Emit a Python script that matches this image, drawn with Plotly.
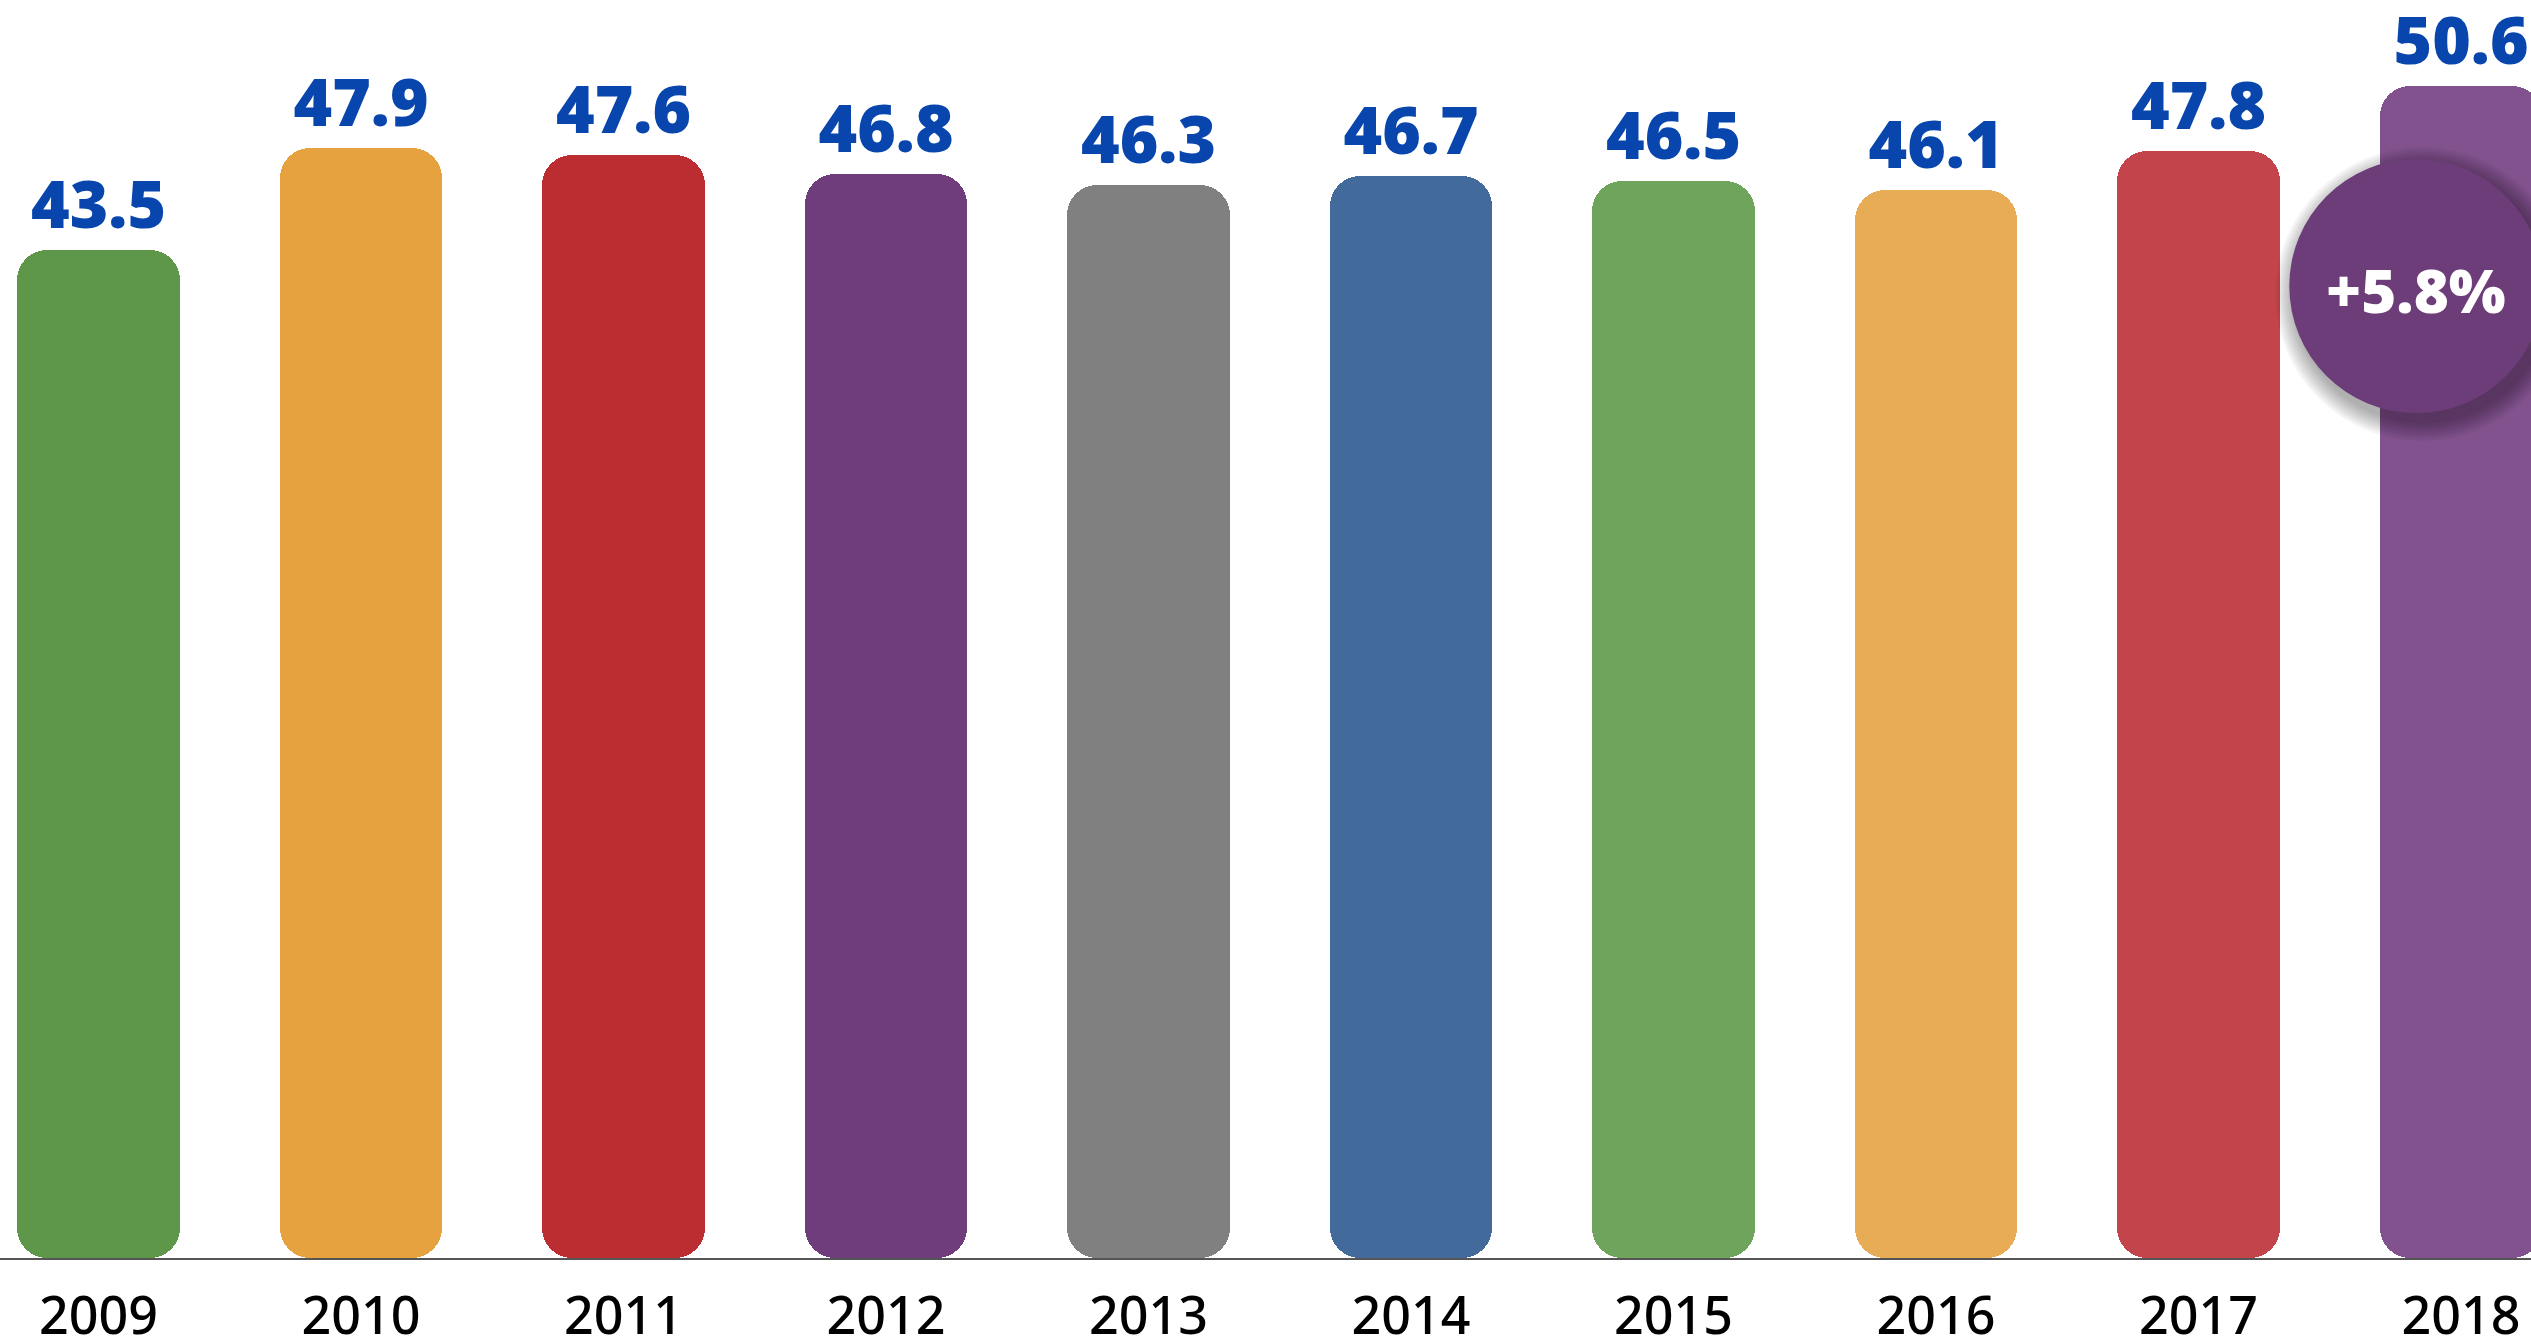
import plotly.graph_objects as go

years = ["2009", "2010", "2011", "2012", "2013", "2014", "2015", "2016", "2017", "2018"]
values = [43.5, 47.9, 47.6, 46.8, 46.3, 46.7, 46.5, 46.1, 47.8, 50.6]
colors = ["#5E974A", "#E6A23F", "#BC2D32", "#6F3D7B", "#7F807F",
          "#426A9B", "#6EA45B", "#E9AC56", "#C3444A", "#82528F"]
badge_text = "+5.8%"

# two overlapping pieces per bar so both ends get rounded corners
upper_base = [v * 0.2 for v in values]
upper_len = [v * 0.8 for v in values]
lower_base = [v * 0.8 for v in values]
lower_len = [-v * 0.8 for v in values]
labels = [f"{v:.1f}" for v in values]

W, H = 2531, 1340
fig = go.Figure()

fig.add_trace(go.Bar(
    x=years, y=lower_len, base=lower_base, width=0.62,
    marker=dict(color=colors, cornerradius=30, line=dict(width=0)),
    textposition="none", hoverinfo="skip", showlegend=False,
))
fig.add_trace(go.Bar(
    x=years, y=upper_len, base=upper_base, width=0.62,
    marker=dict(color=colors, cornerradius=30, line=dict(width=0)),
    text=labels, textposition="outside", texttemplate="%{text}",
    textfont=dict(family="Open Sans", size=66, color="#0845AD", weight=800),
    cliponaxis=False, hoverinfo="skip", showlegend=False,
))

# badge circle with soft shadow
cx_cat = 8.83
cy_val = 41.95
R = 127
shapes = []
for k in range(8, 0, -1):
    r = R + k * 2.5
    shapes.append(dict(
        type="circle", xref="x", yref="y", xsizemode="pixel", ysizemode="pixel",
        xanchor=cx_cat, yanchor=cy_val,
        x0=6 - r, x1=6 + r, y0=-8 - r, y1=-8 + r,
        fillcolor="rgba(0,0,0,0.045)", line=dict(width=0), layer="above",
    ))
shapes.append(dict(
    type="circle", xref="x", yref="y", xsizemode="pixel", ysizemode="pixel",
    xanchor=cx_cat, yanchor=cy_val,
    x0=-R, x1=R, y0=-R, y1=R,
    fillcolor="#6D3D79", line=dict(width=0), layer="above",
))

fig.update_layout(
    width=W, height=H, autosize=False,
    margin=dict(l=0, r=0, t=0, b=82, pad=0),
    paper_bgcolor="white", plot_bgcolor="white",
    barmode="overlay", bargap=0,
    shapes=shapes,
    annotations=[dict(
        x=cx_cat, y=cy_val, xref="x", yref="y", text=badge_text, showarrow=False,
        font=dict(family="Open Sans", size=60, color="white", weight=800),
        xanchor="center", yanchor="middle", yshift=-4,
    )],
    xaxis=dict(
        type="category", range=[-0.375, 9.267], automargin=False,
        showline=True, linecolor="#555555", linewidth=2,
        showgrid=False, zeroline=False, ticks="",
        tickfont=dict(family="Noto Sans", size=52, color="#000000", weight=500),
        ticklabelstandoff=12,
    ),
    yaxis=dict(range=[0, 54.3], visible=False, showgrid=False, zeroline=False,
               automargin=False),
)

fig.write_html(
    "out.html",
    config={"displayModeBar": False},
    post_script="document.body.style.margin='0';document.body.style.overflow='hidden';",
)
